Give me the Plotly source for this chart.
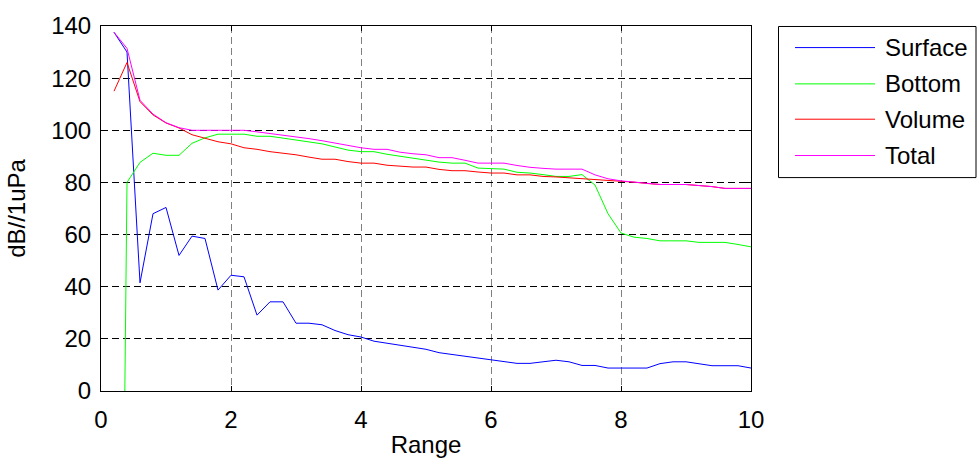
import plotly.graph_objects as go

range_x = [round(0.2 * i, 1) for i in range(1, 51)]

surface = [137.6, 130.0, 41.5, 68.0, 70.4, 52.0, 59.4, 58.5, 38.7, 44.4,
           43.8, 29.1, 34.2, 34.2, 26.0, 26.0, 25.4, 23.2, 21.6, 20.7,
           19.1, 18.3, 17.5, 16.8, 16.0, 14.7, 14.0, 13.3, 12.5, 11.8,
           11.2, 10.6, 10.6, 11.2, 11.8, 11.2, 9.8, 9.8, 8.8, 8.8,
           8.8, 8.8, 10.5, 11.2, 11.2, 10.5, 9.7, 9.7, 9.7, 8.8]

bottom = [-400, 80.0, 87.7, 91.2, 90.4, 90.4, 95.0, 97.1, 98.5, 98.5,
          98.5, 97.7, 97.7, 97.0, 96.2, 95.5, 94.8, 93.6, 92.4, 91.8,
          91.8, 90.8, 90.0, 89.3, 88.5, 87.8, 87.4, 87.4, 85.5, 85.3,
          85.1, 83.9, 83.6, 83.0, 82.3, 82.3, 83.0, 79.0, 68.0, 60.6,
          59.0, 58.5, 57.6, 57.6, 57.6, 57.0, 57.0, 57.0, 56.2, 55.3]

volume = [115.0, 126.0, 111.0, 105.9, 102.8, 100.9, 98.3, 96.8, 95.6, 94.8,
          93.3, 92.7, 91.8, 91.2, 90.6, 89.7, 88.9, 88.9, 88.0, 87.4,
          87.4, 86.6, 86.2, 85.9, 85.9, 85.0, 84.5, 84.5, 84.0, 83.6,
          83.6, 82.9, 82.9, 82.3, 82.1, 81.8, 81.5, 81.0, 80.7, 80.5,
          80.1, 79.6, 79.2, 79.2, 79.2, 78.8, 78.4, 77.7, 77.7, 77.7]

total = [137.6, 131.4, 111.5, 106.2, 102.9, 101.0, 100.0, 100.0, 100.0, 100.0,
         100.0, 99.4, 98.8, 98.2, 97.5, 96.8, 96.0, 95.2, 94.2, 93.3,
         92.7, 92.7, 91.6, 91.0, 90.6, 89.5, 89.5, 88.5, 87.4, 87.4,
         87.4, 86.5, 85.8, 85.4, 85.1, 85.1, 85.1, 82.9, 81.4, 80.6,
         80.1, 79.6, 79.2, 79.2, 79.2, 78.8, 78.4, 77.7, 77.7, 77.7]

series_names = ["Surface", "Bottom", "Volume", "Total"]
series_colors = ["#0000FF", "#00FF00", "#FF0000", "#FF00FF"]
series_values = [surface, bottom, volume, total]

x_ticks = [0, 2, 4, 6, 8, 10]
y_ticks = [0, 20, 40, 60, 80, 100, 120, 140]

W, H = 977, 466
L, R, T, B = 101, 751, 22, 394

FONT = "Liberation Sans, Arial, sans-serif"
FS = 24

fig = go.Figure()
for name, color, vals in zip(series_names, series_colors, series_values):
    fig.add_trace(go.Scatter(x=range_x, y=vals, mode="lines", name=name,
                             line=dict(color=color, width=1), showlegend=False))

def px(xp):
    return (xp - L) / (R - L)

def py(yp):
    return (B - yp) / (B - T)

shapes = []
annotations = []
# legend box
shapes.append(dict(type="rect", xref="paper", yref="paper",
                   x0=px(778.5), x1=px(976), y0=py(22.5), y1=py(176.5),
                   line=dict(color="black", width=1), fillcolor="white", layer="above"))
leg_y = [44, 81, 117, 154]
for name, color, yy in zip(series_names, series_colors, leg_y):
    shapes.append(dict(type="line", xref="paper", yref="paper",
                       x0=px(795), x1=px(875), y0=py(yy), y1=py(yy),
                       line=dict(color=color, width=1), layer="above"))
    annotations.append(dict(xref="paper", yref="paper", x=px(883), y=py(yy),
                            text=name, showarrow=False, xanchor="left", yanchor="middle",
                            font=dict(family=FONT, size=FS, color="black")))

axis_common = dict(showline=True, linecolor="black", linewidth=1, mirror="ticks",
                   ticks="inside", ticklen=5, tickcolor="black", tickwidth=1,
                   showgrid=True, zeroline=False,
                   tickfont=dict(family=FONT, size=FS, color="black"))

fig.update_layout(
    width=W, height=H,
    margin=dict(l=L, r=W - R, t=T, b=H - B),
    paper_bgcolor="white", plot_bgcolor="white",
    shapes=shapes, annotations=annotations,
    xaxis=dict(range=[0, 10], tickvals=x_ticks, ticktext=[str(v) for v in x_ticks],
               gridcolor="#808080", gridwidth=1, griddash="7px,4px",
               title=dict(text="Range", font=dict(family=FONT, size=FS, color="black"), standoff=4),
               ticklabelstandoff=7,
               **axis_common),
    yaxis=dict(range=[0, 140], tickvals=y_ticks, ticktext=[str(v) for v in y_ticks],
               gridcolor="black", gridwidth=1, griddash="7px,4px",
               title=dict(text="dB//1uPa", font=dict(family=FONT, size=FS, color="black"), standoff=18),
               ticklabelstandoff=4,
               **axis_common),
)

fig.write_html("out.html")
